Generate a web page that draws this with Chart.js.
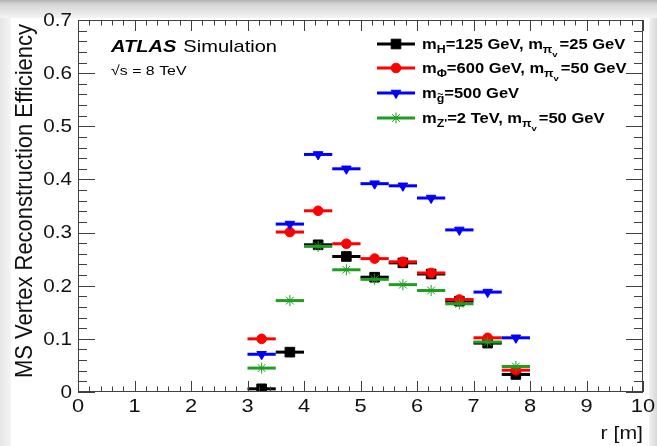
<!DOCTYPE html>
<html>
<head>
<meta charset="utf-8">
<script src="https://cdn.jsdelivr.net/npm/chart.js@4.4.1/dist/chart.umd.min.js"></script>
<style>
  html, body { margin: 0; padding: 0; background: #fff; }
  #eff { display: block; }
</style>
</head>
<body>
<canvas id="eff" width="657" height="446"></canvas>
<script>
// bin centres in r [m], each bin is 0.5 m wide
const rBins = [3.25, 3.75, 4.25, 4.75, 5.25, 5.75, 6.25, 6.75, 7.25, 7.75];
const binHalfWidth = 0.25;

const effHiggs   = [0.006, 0.075, 0.277, 0.255, 0.216, 0.243, 0.222, 0.171, 0.092, 0.033];
const effScalar  = [0.100, 0.301, 0.341, 0.279, 0.251, 0.245, 0.224, 0.174, 0.102, 0.041];
const effGluino  = [0.071, 0.316, 0.447, 0.420, 0.392, 0.388, 0.365, 0.305, 0.188, 0.102];
const effZprime  = [0.045, 0.172, 0.274, 0.230, 0.212, 0.202, 0.191, 0.166, 0.094, 0.048];

const xTicks = [0, 1, 2, 3, 4, 5, 6, 7, 8, 9, 10];
const yTicks = [0, 0.1, 0.2, 0.3, 0.4, 0.5, 0.6, 0.7];
const yTickLabels = ['0', '0.1', '0.2', '0.3', '0.4', '0.5', '0.6', '0.7'];

const FONT = '"Liberation Sans", Arial, Helvetica, sans-serif';
const SX = 1.18;   // text is drawn a bit wide, like the ROOT canvas

// legend rows: text pieces, lvl 0 = normal, 1 = subscript, 2 = sub-subscript
const legendRows = [
  [['m', 0], ['H', 1], ['=125 GeV, m', 0], ['\u03c0', 1], ['v', 2], ['=25 GeV', 0]],
  [['m', 0], ['\u03a6', 1], ['=600 GeV, m', 0], ['\u03c0', 1], ['v', 2], ['=50 GeV', 0]],
  [['m', 0], ['g', 1, 'tilde'], ['=500 GeV', 0]],
  [['m', 0], ['Z\'', 1], ['=2 TeV, m', 0], ['\u03c0', 1], ['v', 2], ['=50 GeV', 0]]
];

function pts(vals) {
  return rBins.map((r, i) => ({ x: r, y: vals[i] }));
}

const series = [
  { label: 'Higgs',  data: pts(effHiggs),  color: '#000000', style: 'rect',     radius: 6.8, rotation: 0,   order: 4 },
  { label: 'Scalar', data: pts(effScalar), color: '#ff0000', style: 'circle',   radius: 4.8, rotation: 0,   order: 3 },
  { label: 'Gluino', data: pts(effGluino), color: '#0000ff', style: 'triangle', radius: 5.5, rotation: 180, order: 2 },
  { label: 'Zprime', data: pts(effZprime), color: '#1f9e1f', style: 'star',     radius: 5.5, rotation: 0,   order: 1 }
];

function stretchText(ctx, str, x, y, align) {
  ctx.save();
  ctx.translate(x, y);
  ctx.scale(SX, 1);
  ctx.textAlign = align || 'left';
  ctx.fillText(str, 0, 0);
  ctx.restore();
}

// page backdrop with the grey edge bands
const backdrop = {
  id: 'backdrop',
  beforeDraw(chart) {
    const ctx = chart.ctx, w = chart.width, h = chart.height;
    ctx.save();
    ctx.fillStyle = '#ffffff';
    ctx.fillRect(0, 0, w, h);
    let g = ctx.createLinearGradient(0, 0, 0, 18);
    g.addColorStop(0, '#b4b4b4');
    g.addColorStop(0.25, '#d6d6d6');
    g.addColorStop(1, '#f4f4f4');
    ctx.fillStyle = g;
    ctx.fillRect(0, 0, w, 18);
    g = ctx.createLinearGradient(0, 0, 12, 0);
    g.addColorStop(0, '#e6e6e6');
    g.addColorStop(1, '#f6f6f6');
    ctx.fillStyle = g;
    ctx.fillRect(0, 18, 11, h - 18);
    g = ctx.createLinearGradient(w - 8, 0, w, 0);
    g.addColorStop(0, '#f2f2f2');
    g.addColorStop(1, '#d8d8d8');
    ctx.fillStyle = g;
    ctx.fillRect(w - 8, 18, 8, h - 18);
    ctx.restore();
  }
};

// horizontal bin-width bars, drawn just under each dataset's markers
const binBars = {
  id: 'binBars',
  beforeDatasetDraw(chart, args) {
    const ds = chart.data.datasets[args.index];
    const xs = chart.scales.x, ys = chart.scales.y, ctx = chart.ctx;
    ctx.save();
    ctx.strokeStyle = ds.borderColor;
    ctx.lineWidth = 3;
    ds.data.forEach(p => {
      const y = ys.getPixelForValue(p.y);
      ctx.beginPath();
      ctx.moveTo(xs.getPixelForValue(p.x - binHalfWidth), y);
      ctx.lineTo(xs.getPixelForValue(p.x + binHalfWidth), y);
      ctx.stroke();
    });
    ctx.restore();
  }
};

// ROOT style frame: ticks inside on all four sides, labels, titles, legend
const rootFrame = {
  id: 'rootFrame',
  afterDraw(chart) {
    const ctx = chart.ctx, a = chart.chartArea;
    const xs = chart.scales.x, ys = chart.scales.y;
    ctx.save();
    ctx.strokeStyle = '#404040';
    ctx.lineWidth = 1;
    ctx.strokeRect(a.left + 0.5, a.top + 0.5, a.right - a.left - 1, a.bottom - a.top - 1);

    ctx.beginPath();
    for (let v = 0; v <= 10.001; v += 0.2) {
      const x = Math.round(xs.getPixelForValue(v)) + 0.5;
      const major = Math.abs(v - Math.round(v)) < 1e-6;
      const len = major ? 11 : 5.5;
      ctx.moveTo(x, a.bottom); ctx.lineTo(x, a.bottom - len);
      ctx.moveTo(x, a.top); ctx.lineTo(x, a.top + len);
    }
    for (let v = 0; v <= 0.7001; v += 0.02) {
      const y = Math.round(ys.getPixelForValue(v)) + 0.5;
      const major = Math.abs(v * 10 - Math.round(v * 10)) < 1e-6;
      const len = major ? 17 : 9;
      ctx.moveTo(a.left, y); ctx.lineTo(a.left + len, y);
      ctx.moveTo(a.right, y); ctx.lineTo(a.right - len, y);
    }
    ctx.stroke();

    ctx.fillStyle = '#111';
    ctx.font = '18.5px ' + FONT;
    ctx.textBaseline = 'top';
    xTicks.forEach(v => stretchText(ctx, String(v), xs.getPixelForValue(v), a.bottom + 6, 'center'));
    ctx.font = '17.5px ' + FONT;
    ctx.textBaseline = 'middle';
    yTicks.forEach((v, i) => stretchText(ctx, yTickLabels[i], a.left - 6, ys.getPixelForValue(v) + 1, 'right'));

    // axis titles
    ctx.font = '18px ' + FONT;
    ctx.textBaseline = 'alphabetic';
    stretchText(ctx, 'r [m]', a.right, 439, 'right');
    ctx.save();
    ctx.translate(32, 201);
    ctx.rotate(-Math.PI / 2);
    ctx.scale(1, 1.08);
    ctx.font = '22px ' + FONT;
    ctx.textAlign = 'center';
    ctx.fillText('MS Vertex Reconstruction Efficiency', 0, 0);
    ctx.restore();

    // ATLAS label
    ctx.fillStyle = '#000';
    ctx.font = 'italic bold 17px ' + FONT;
    stretchText(ctx, 'ATLAS', 111, 52, 'left');
    const wAtlas = ctx.measureText('ATLAS').width * SX;
    ctx.font = '17px ' + FONT;
    stretchText(ctx, 'Simulation', 111 + wAtlas + 7, 52, 'left');
    ctx.font = '13.5px ' + FONT;
    stretchText(ctx, '\u221as = 8 TeV', 111, 75, 'left');

    // legend
    const rowY = [44, 68, 93, 118];
    series.forEach((s, i) => {
      const y = rowY[i];
      ctx.strokeStyle = s.color;
      ctx.fillStyle = s.color;
      ctx.lineWidth = 3;
      ctx.beginPath();
      ctx.moveTo(377, y); ctx.lineTo(415, y);
      ctx.stroke();
      ctx.lineWidth = 1;
      Chart.helpers.drawPoint(ctx, { pointStyle: s.style, radius: s.radius, rotation: s.rotation, borderWidth: 1 }, 396, y);

      ctx.fillStyle = '#000';
      let x = 422;
      const base = y + 5;
      legendRows[i].forEach(seg => {
        const [t, lvl, deco] = seg;
        const size = lvl === 0 ? 14 : (lvl === 1 ? 10.5 : 8);
        const dy = lvl === 0 ? 0 : (lvl === 1 ? 4 : 8);
        ctx.font = 'bold ' + size + 'px ' + FONT;
        stretchText(ctx, t, x, base + dy, 'left');
        const w = ctx.measureText(t).width * SX;
        if (deco === 'tilde') {
          ctx.font = 'bold 9px ' + FONT;
          stretchText(ctx, '~', x + w / 2, base + dy - 5, 'center');
        }
        x += w + (lvl === 2 ? 2 : 0);
      });
    });
    ctx.restore();
  }
};

window.onload = function() {
  const ctx = document.querySelector('#eff');

  const chartData = {
    datasets: series.map(s => ({
      label: s.label,
      data: s.data,
      showLine: false,
      borderColor: s.color,
      backgroundColor: s.color,
      pointStyle: s.style,
      pointRadius: s.radius,
      pointRotation: s.rotation,
      pointBorderWidth: 1,
      order: s.order
    }))
  };

  new Chart(ctx, {
    type: 'scatter',
    data: chartData,
    options: {
      responsive: false,
      animation: false,
      layout: { padding: { left: 78, right: 14, top: 20, bottom: 54 } },
      plugins: { legend: { display: false }, tooltip: { enabled: false } },
      scales: {
        x: { type: 'linear', min: 0, max: 10, display: false },
        y: { type: 'linear', min: 0, max: 0.7, display: false }
      }
    },
    plugins: [backdrop, binBars, rootFrame]
  });
};
</script>
</body>
</html>
